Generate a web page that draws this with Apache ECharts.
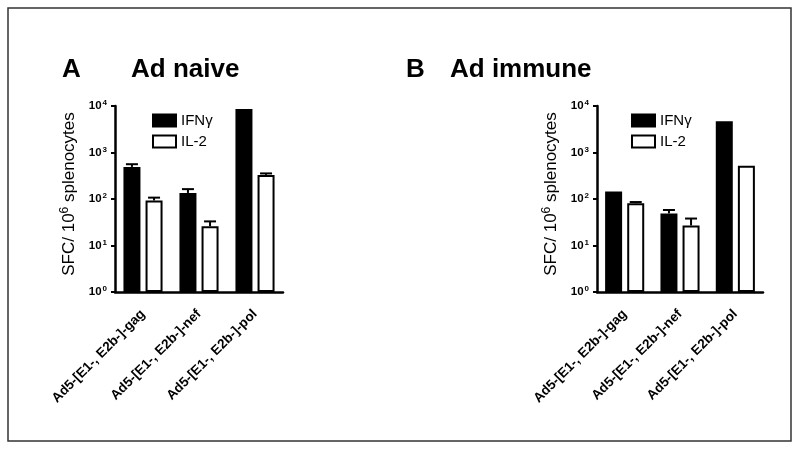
<!DOCTYPE html>
<html>
<head>
<meta charset="utf-8">
<script src="https://cdn.jsdelivr.net/npm/echarts@6/dist/echarts.min.js"></script>
<style>
  html, body { margin: 0; padding: 0; background: #fff; }
  #main { width: 800px; height: 449px; }
</style>
</head>
<body>
<div id="main"></div>
<script>
  // categories and values
  var categories = ['Ad5-[E1-, E2b-]-gag', 'Ad5-[E1-, E2b-]-nef', 'Ad5-[E1-, E2b-]-pol'];
  var naiveIfn = [490, 135, 8600];
  var naiveIfnErr = [560, 163, 8600];
  var naiveIl2 = [93, 26, 330];
  var naiveIl2Err = [107, 33, 355];
  var immuneIfn = [145, 49, 4700];
  var immuneIfnErr = [150, 58, 4700];
  var immuneIl2 = [81, 27, 520];
  var immuneIl2Err = [86, 38, 530];
  var yTicks = [1, 10, 100, 1000, 10000];

  var BAR_W = 17;
  var BAR_GAP = 0.3;
  var OFFSET = (BAR_W + BAR_W * BAR_GAP) / 2;

  var chart = echarts.init(document.getElementById('main'));

  function errData(vals, errs) {
    var out = [];
    for (var i = 0; i < vals.length; i++) {
      out.push([i, vals[i], errs[i]]);
    }
    return out;
  }

  function errSeries(idx, data, side) {
    return {
      type: 'custom',
      xAxisIndex: idx,
      yAxisIndex: idx,
      silent: true,
      z: 5,
      data: data,
      encode: { x: 0, y: 1 },
      renderItem: function (params, api) {
        var lo = api.coord([api.value(0), api.value(1)]);
        var hi = api.coord([api.value(0), api.value(2)]);
        var x = lo[0] + side * OFFSET;
        if (Math.abs(lo[1] - hi[1]) < 1) return null;
        return {
          type: 'group',
          children: [
            { type: 'line', shape: { x1: x, y1: lo[1], x2: x, y2: hi[1] }, style: { stroke: '#000', lineWidth: 2 } },
            { type: 'line', shape: { x1: x - 6, y1: hi[1], x2: x + 6, y2: hi[1] }, style: { stroke: '#000', lineWidth: 2 } }
          ]
        };
      }
    };
  }

  function xAxis(idx) {
    return {
      type: 'category',
      gridIndex: idx,
      data: categories,
      axisLine: { lineStyle: { color: '#000', width: 2.5 } },
      axisTick: { alignWithLabel: true, length: 6, lineStyle: { color: '#000', width: 2 } },
      axisLabel: {
        rotate: 45, color: '#000', fontWeight: 'bold', fontSize: 13.5,
        fontFamily: 'Liberation Sans', margin: 20, interval: 0
      }
    };
  }

  function yAxis(idx) {
    return {
      type: 'log',
      gridIndex: idx,
      logBase: 10,
      min: yTicks[0],
      max: yTicks[yTicks.length - 1],
      name: '{n|SFC/ 10}{s|6}{n| splenocytes}',
      nameLocation: 'middle',
      nameGap: 35,
      nameTextStyle: {
        padding: [0, 0, 0, 10],
        rich: {
          n: { fontSize: 17, color: '#000', fontFamily: 'Liberation Sans' },
          s: { fontSize: 12, color: '#000', fontFamily: 'Liberation Sans', verticalAlign: 'top', padding: [0, 0, 9, 0] }
        }
      },
      splitLine: { show: false },
      minorTick: { show: false },
      axisLine: { show: true, lineStyle: { color: '#000', width: 2.5 } },
      axisTick: { show: true, length: 4, lineStyle: { color: '#000', width: 2 } },
      axisLabel: {
        margin: 8,
        formatter: function (v) {
          return '{b|10}{s|' + Math.round(Math.log10(v)) + '}';
        },
        rich: {
          b: { fontSize: 11.5, fontWeight: 'bold', color: '#000', fontFamily: 'Liberation Sans' },
          s: { fontSize: 8, fontWeight: 'bold', color: '#000', fontFamily: 'Liberation Sans', verticalAlign: 'top', padding: [0, 0, 6, 1] }
        }
      }
    };
  }

  function bars(idx, name, vals, filled) {
    return {
      name: name,
      type: 'bar',
      xAxisIndex: idx,
      yAxisIndex: idx,
      data: vals,
      barWidth: BAR_W,
      barGap: (BAR_GAP * 100) + '%',
      itemStyle: {
        color: filled ? '#000' : '#fff',
        borderColor: '#000',
        borderWidth: 2
      }
    };
  }

  function legend(left) {
    return {
      data: ['IFNγ', 'IL-2'],
      orient: 'vertical',
      left: left,
      top: 108,
      icon: 'rect',
      itemWidth: 23,
      itemHeight: 12,
      itemGap: 6,
      selectedMode: false,
      textStyle: { fontSize: 15, color: '#000', fontFamily: 'Liberation Sans' }
    };
  }

  var titleFont = { fontSize: 26, fontWeight: 'bold', color: '#000', fontFamily: 'Liberation Sans' };

  chart.setOption({
    animation: false,
    title: [
      { text: 'A', left: 57, top: 52, textStyle: titleFont },
      { text: 'Ad naive', left: 126, top: 52, textStyle: titleFont },
      { text: 'B', left: 401, top: 52, textStyle: titleFont },
      { text: 'Ad immune', left: 445, top: 52, textStyle: titleFont }
    ],
    graphic: [
      { type: 'rect', shape: { x: 8, y: 8, width: 783, height: 433 }, style: { fill: 'none', stroke: '#333', lineWidth: 1.5 } }
    ],
    legend: [legend(147), legend(626)],
    grid: [
      { left: 115, top: 106, width: 168, height: 186 },
      { left: 597, top: 106, width: 166, height: 186 }
    ],
    xAxis: [xAxis(0), xAxis(1)],
    yAxis: [yAxis(0), yAxis(1)],
    series: [
      bars(0, 'IFNγ', naiveIfn, true),
      bars(0, 'IL-2', naiveIl2, false),
      bars(1, 'IFNγ', immuneIfn, true),
      bars(1, 'IL-2', immuneIl2, false),
      errSeries(0, errData(naiveIfn, naiveIfnErr), -1),
      errSeries(0, errData(naiveIl2, naiveIl2Err), 1),
      errSeries(1, errData(immuneIfn, immuneIfnErr), -1),
      errSeries(1, errData(immuneIl2, immuneIl2Err), 1)
    ]
  });
</script>
</body>
</html>
